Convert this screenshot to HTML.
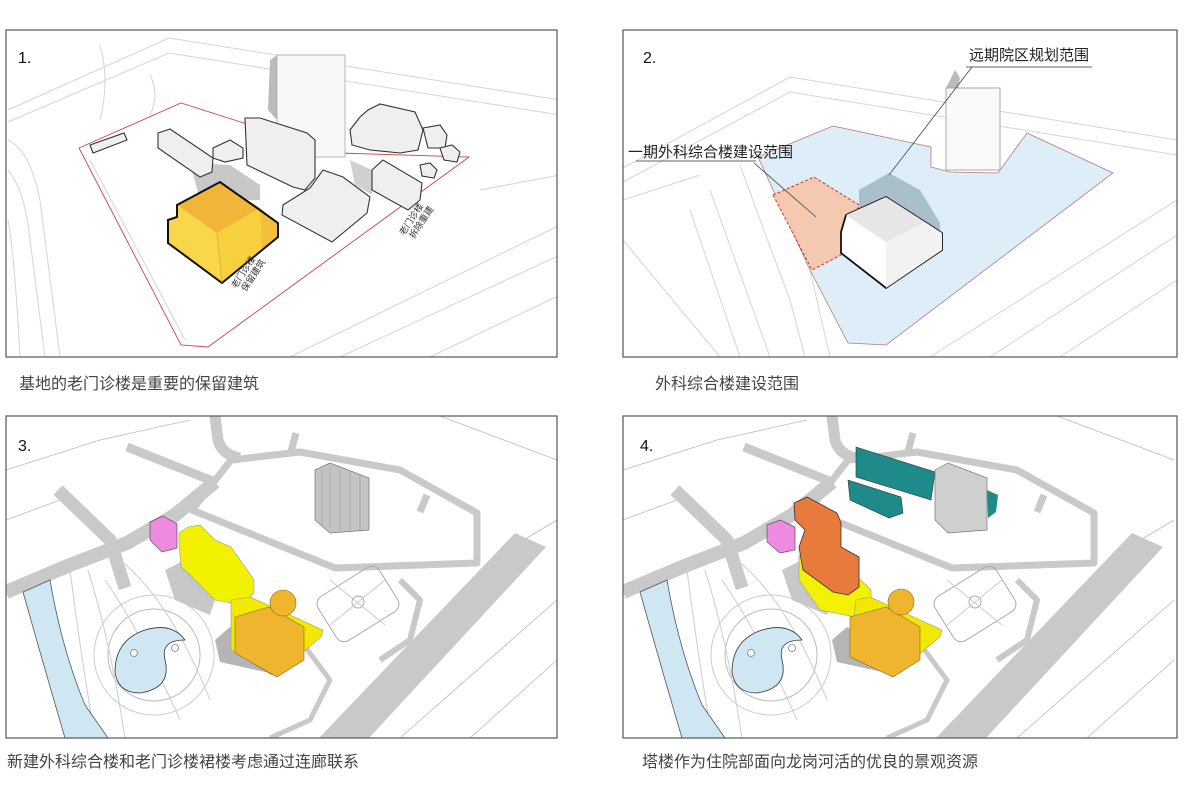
<!DOCTYPE html>
<html><head><meta charset="utf-8"><style>
html,body{margin:0;padding:0;background:#fff;}
svg{display:block;font-family:"Liberation Sans","Noto Sans CJK SC",sans-serif;}
</style></head><body>
<svg width="1187" height="788" viewBox="0 0 1187 788" xmlns="http://www.w3.org/2000/svg">
<defs>
<clipPath id="c1"><rect x="6" y="30" width="551" height="327"/></clipPath>
<clipPath id="c2"><rect x="623" y="30" width="554" height="327"/></clipPath>
<clipPath id="c3"><rect x="6" y="416" width="551" height="322"/></clipPath>
<clipPath id="c4"><rect x="623" y="416" width="554" height="322"/></clipPath>
<g id="base">
  <g fill="none" stroke="#bbb" stroke-width="0.8">
    <path d="M6,470 L100,440 L190,420"/><path d="M6,520 L60,500"/>
    <path d="M440,416 L557,460"/><path d="M490,560 L557,520"/>
    <path d="M400,738 L557,600"/><path d="M470,738 L557,660"/>
  </g>
  <g fill="none" stroke="#c9c9c9" stroke-linejoin="round" stroke-linecap="butt">
    <path d="M6,592 L70,565 L127,543 L175,515 L215,482" stroke-width="14"/>
    <path d="M58,490 L110,540 L125,588" stroke-width="13"/>
    <path d="M127,447 L215,482" stroke-width="9"/>
    <path d="M215,416 L218,440 Q222,455 240,458" stroke-width="11"/>
    <path d="M192,510 L231,460 L300,452 L400,470 L477,513 L477,563 L335,568 Z" stroke-width="7"/>
    <path d="M296,433 L290,455" stroke-width="7"/>
    <path d="M427,495 L420,512" stroke-width="7"/>
    <path d="M250,620 L300,640 L330,680 L310,720 L270,738" stroke-width="5"/>
    <path d="M400,580 L420,600 L410,640 L380,660" stroke-width="6"/>
  </g>
  <polygon points="515,533 546,547 369,738 319,738" fill="#c9c9c9"/>
  <rect x="322" y="578" width="72" height="52" rx="9" fill="none" stroke="#aaa" transform="rotate(-32 358 604)"/>
  <circle cx="358" cy="602" r="6" fill="none" stroke="#aaa"/>
  <path d="M330,580 L385,625 M385,580 L330,625" stroke="#ccc" fill="none"/>
  <circle cx="154" cy="655" r="46" fill="none" stroke="#bbb"/>
  <circle cx="154" cy="655" r="60" fill="none" stroke="#ccc"/>
  <path d="M70,570 Q80,650 95,738 M88,570 Q110,640 125,738 M105,580 Q140,630 180,720 M120,560 Q170,600 210,700" fill="none" stroke="#ccc"/>
  <path d="M115,672 Q115,640 145,630 Q172,622 185,640 Q160,640 165,660 Q172,688 140,693 Q118,693 115,672Z" fill="#cfe6f3" stroke="#333" stroke-width="0.8"/>
  <circle cx="134" cy="653" r="3.5" fill="#fff" stroke="#555" stroke-width="0.6"/>
  <circle cx="175" cy="648" r="3.5" fill="#fff" stroke="#555" stroke-width="0.6"/>
  <path d="M23,592 L50,580 Q62,650 85,705 L108,738 L65,738 Q45,670 23,592Z" fill="#cfe6f3" stroke="#555" stroke-width="0.8"/>
  <polygon points="165,570 185,560 215,600 210,615 175,600" fill="#c8c8c8"/>
  <polygon points="215,640 230,627 277,655 270,673 220,662" fill="#b5b5b5"/>
</g>
</defs>

<!-- Panel 1 -->
<g clip-path="url(#c1)">
  <rect x="6" y="30" width="551" height="327" fill="#fff"/>
  <g fill="none" stroke="#d5d5d5" stroke-width="1">
    <path d="M8,110 L169,38 L560,100"/><path d="M8,122 L169,53 L560,115"/>
    <path d="M8,140 Q30,150 40,200 L60,357"/><path d="M8,170 Q25,190 30,240 L45,357"/>
    <path d="M8,220 Q15,260 20,357"/><path d="M100,45 Q110,80 100,120"/><path d="M150,75 Q160,95 150,115"/>
    <path d="M290,357 L560,225"/><path d="M340,357 L560,255"/><path d="M430,357 L560,295"/>
    <path d="M480,190 L560,175"/><path d="M90,160 L185,340"/>
  </g>
  <polygon points="79,148 181,103 338,153 469,157 208,347 181,345" fill="none" stroke="#c44" stroke-width="0.9"/>
  <polygon points="190,163 230,165 260,185 260,200 200,200" fill="#c8c8c8"/>
  <polygon points="270,60 277,55 277,120 268,110" fill="#bbb"/>
  <polygon points="350,160 372,170 372,195 355,185" fill="#d0d0d0"/>
  <rect x="277" y="55" width="68" height="102" fill="#f7f7f7" stroke="#aaa" stroke-width="0.8"/>
  <g fill="#efefef" stroke="#333" stroke-width="1.1">
    <polygon points="90,145 124,133 127,140 93,153"/>
    <polygon points="158,133 170,129 213,158 212,172 200,177 158,148"/>
    <polygon points="213,148 230,140 243,148 243,158 225,162 213,158"/>
    <polygon points="245,118 260,118 307,133 315,140 315,178 305,190 293,187 247,165"/>
    <polygon points="283,205 310,188 323,170 343,177 370,197 367,213 332,242 282,215"/>
    <polygon points="372,170 383,160 422,183 420,200 408,210 372,190"/>
    <polygon points="350,130 360,117 368,110 380,104 415,112 423,130 418,150 400,153 370,150 352,145"/>
    <polygon points="423,128 440,125 447,135 445,148 428,148"/>
    <polygon points="440,148 452,145 460,152 457,162 444,160"/>
    <polygon points="420,165 430,163 437,170 434,178 422,176"/>
  </g>
  <polygon points="168,220 177,217 177,205 220,182 257,208 278,223 278,237 222,283 168,243" fill="#f8d84a"/>
  <polygon points="177,205 220,182 260,208 217,233" fill="#f2b53a"/>
  <polygon points="217,233 260,208 278,223 278,237 222,283" fill="#f7d040"/>
  <polygon points="260,208 278,223 278,237 262,250" fill="#f2c03a"/>
  <polygon points="168,220 177,217 177,205 220,182 257,208 278,223 278,237 222,283 168,243" fill="none" stroke="#111" stroke-width="2"/>
  <line x1="217" y1="233" x2="222" y2="283" stroke="#d9a82a" stroke-width="0.7"/>
  <text x="0" y="0" font-size="9" fill="#333" transform="translate(236,289) rotate(-57)">老门诊楼</text>
  <text x="0" y="0" font-size="9" fill="#333" transform="translate(246,292) rotate(-57)">保留建筑</text>
  <text x="0" y="0" font-size="9" fill="#333" transform="translate(404,236) rotate(-57)">老门诊楼</text>
  <text x="0" y="0" font-size="9" fill="#333" transform="translate(414,239) rotate(-57)">拆除重建</text>
  <text x="18" y="63" font-size="16" fill="#111">1.</text>
</g>
<rect x="6" y="30" width="551" height="327" fill="none" stroke="#555" stroke-width="1.2"/>

<!-- Panel 2 -->
<g clip-path="url(#c2)">
  <rect x="623" y="30" width="554" height="327" fill="#fff"/>
  <g fill="none" stroke="#d5d5d5" stroke-width="1">
    <path d="M623,168 L790,77 L1177,140"/><path d="M623,182 L790,92 L1177,155"/>
    <path d="M758,157 Q780,200 810,270 L830,357"/><path d="M740,165 Q760,220 790,300 L805,357"/>
    <path d="M710,190 L770,357"/><path d="M690,210 L740,357"/><path d="M623,240 L720,357"/>
    <path d="M930,357 L1177,200"/><path d="M990,357 L1177,235"/><path d="M1060,357 L1177,280"/>
    <path d="M623,200 L700,175"/>
  </g>
  <polygon points="758,157 833,126 931,147 931,167 950,172 998,173 1027,133 1113,173 886,345 848,343 810,270" fill="#deeef9" stroke="#b77" stroke-width="0.8"/>
  <polygon points="773,195 814,177 859,205 841,255 812,270" fill="#f4c9b0" stroke="#c33" stroke-width="1" stroke-dasharray="3,2"/>
  <polygon points="946,88 955,70 960,78 950,135" fill="#bbb"/>
  <rect x="946" y="88" width="54" height="82" fill="#fafafa" stroke="#aaa"/>
  <polygon points="859,190 889,173 920,190 940,223 940,233 859,233" fill="#a9bfc9"/>
  <polygon points="846,215 886,197 942,233 942,250 886,288 841,253 841,232" fill="#fff" stroke="#111" stroke-width="1.8"/>
  <polygon points="846,215 886,197 925,222 886,242" fill="#e6e6e6"/>
  <polygon points="886,242 925,222 942,233 942,250 886,288" fill="#f2f2f2"/>
  <line x1="972" y1="67" x2="889" y2="175" stroke="#444" stroke-width="0.8"/>
  <line x1="754" y1="163" x2="816" y2="217" stroke="#444" stroke-width="0.8"/>
  <text x="969" y="60" font-size="15" fill="#222">远期院区规划范围</text>
  <line x1="966" y1="67" x2="1092" y2="67" stroke="#666"/>
  <text x="628" y="157" font-size="15" fill="#222">一期外科综合楼建设范围</text>
  <line x1="636" y1="161" x2="756" y2="161" stroke="#666"/>
  <text x="643" y="63" font-size="16" fill="#111">2.</text>
</g>
<rect x="623" y="30" width="554" height="327" fill="none" stroke="#555" stroke-width="1.2"/>

<!-- Panel 3 -->
<g clip-path="url(#c3)">
  <rect x="6" y="416" width="551" height="322" fill="#fff"/>
  <use href="#base"/>
  <polygon points="315,470 330,463 369,478 369,530 330,533 315,520" fill="#c4c4c4" stroke="#777" stroke-width="0.7"/>
  <path d="M322,470 V525 M330,468 V528 M340,470 V530 M350,472 V530 M360,475 V530" stroke="#999" stroke-width="0.6"/>
  <polygon points="150,522 163,516 177,524 177,548 162,552 150,540" fill="#ee8ae0" stroke="#555" stroke-width="0.7"/>
  <polygon points="179,533 188,527 200,525 215,540 231,547 254,580 254,593 246,600 231,603 215,600 188,573 181,567 179,543" fill="#f2f200" stroke="#999" stroke-width="0.6"/>
  <polygon points="231,600 250,597 323,630 321,637 281,670 272,675 231,650" fill="#f2e800" stroke="#999" stroke-width="0.6"/>
  <polygon points="235,617 269,607 304,627 304,660 277,677 235,653" fill="#f0b52e" stroke="#8a6a10" stroke-width="0.6"/>
  <circle cx="283" cy="603" r="13" fill="#f0b52e" stroke="#8a6a10" stroke-width="0.6"/>
  <text x="18" y="451" font-size="16" fill="#111">3.</text>
</g>
<rect x="6" y="416" width="551" height="322" fill="none" stroke="#555" stroke-width="1.2"/>

<!-- Panel 4 -->
<g clip-path="url(#c4)">
  <rect x="623" y="416" width="554" height="322" fill="#fff"/>
  <use href="#base" transform="translate(617,0)"/>
  <polygon points="856,447 935,472 931,500 856,477" fill="#1e8a8a" stroke="#333" stroke-width="0.6"/>
  <polygon points="848,480 901,497 903,513 889,518 850,500" fill="#1e8a8a" stroke="#333" stroke-width="0.6"/>
  <polygon points="987,490 998,495 996,512 988,518" fill="#1e8a8a"/>
  <polygon points="935,470 948,463 987,478 987,530 948,533 935,520" fill="#cfcfcf" stroke="#777" stroke-width="0.7"/>
  <polygon points="767,525 780,520 795,527 795,550 780,553 767,542" fill="#ee8ae0" stroke="#555" stroke-width="0.7"/>
  <polygon points="799,555 840,560 871,590 871,610 855,617 820,610 799,580" fill="#f2f200" stroke="#999" stroke-width="0.6"/>
  <polygon points="794,503 807,497 837,513 841,523 841,547 859,557 859,587 848,595 833,592 803,570 799,547 805,530 795,520" fill="#e87a3c" stroke="#333" stroke-width="0.8"/>
  <polygon points="856,600 870,597 942,630 940,637 900,670 890,675 850,650" fill="#f2e800" stroke="#999" stroke-width="0.6"/>
  <polygon points="850,617 886,607 920,627 920,660 893,677 850,657" fill="#f0b52e" stroke="#8a6a10" stroke-width="0.6"/>
  <circle cx="901" cy="602" r="13" fill="#f0b52e" stroke="#8a6a10" stroke-width="0.6"/>
  <text x="640" y="451" font-size="16" fill="#111">4.</text>
</g>
<rect x="623" y="416" width="554" height="322" fill="none" stroke="#555" stroke-width="1.2"/>

<g font-size="16" fill="#444">
  <text x="19" y="389">基地的老门诊楼是重要的保留建筑</text>
  <text x="655" y="389">外科综合楼建设范围</text>
  <text x="7" y="767">新建外科综合楼和老门诊楼裙楼考虑通过连廊联系</text>
  <text x="642" y="767">塔楼作为住院部面向龙岗河活的优良的景观资源</text>
</g>
</svg>
</body></html>
